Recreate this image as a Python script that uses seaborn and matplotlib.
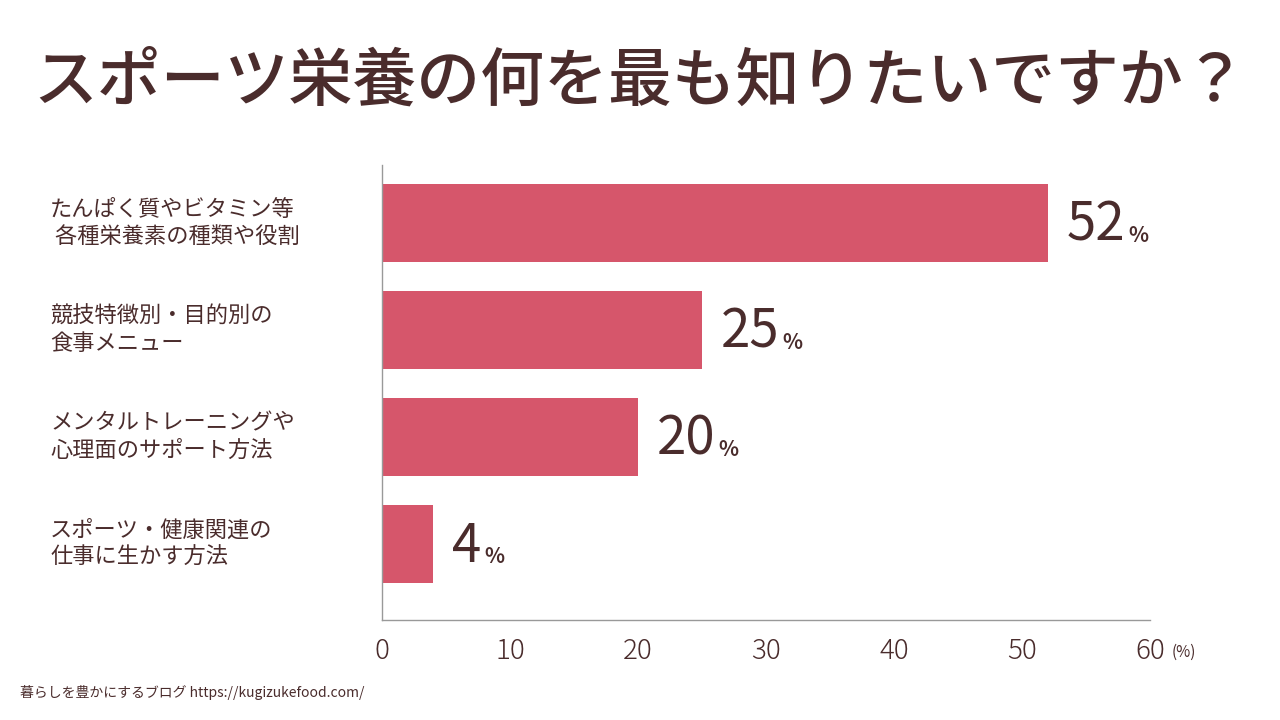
import matplotlib
matplotlib.use("Agg")
import matplotlib.pyplot as plt
import seaborn as sns
import pandas as pd

categories = ["たんぱく質やビタミン等\n 各種栄養素の種類や役割",
              "競技特徴別・目的別の\n食事メニュー",
              "メンタルトレーニングや\n心理面のサポート方法",
              "スポーツ・健康関連の\n仕事に生かす方法"]
values = [52, 25, 20, 4]
xticks = [0, 10, 20, 30, 40, 50, 60]

BAR = "#D6566B"
TXT = "#4A2C2C"
plt.rcParams["font.family"] = "Noto Sans CJK JP"

df = pd.DataFrame({"cat": categories, "val": values})
fig = plt.figure(figsize=(12.8, 7.2), dpi=100)
ax = fig.add_axes([382/1280, 1-620/720, 768/1280, 455/720])
sns.barplot(data=df, x="val", y="cat", orient="h", color=BAR, width=0.73,
            saturation=1, ax=ax)
ax.set_xlim(0, 60)
ax.set_ylim(3.71, -0.54)
ax.set_xticks(xticks)
ax.set_xticklabels([str(t) for t in xticks], fontsize=20, color=TXT, fontweight="light")
ax.tick_params(axis="x", length=0, pad=12)
ax.tick_params(axis="y", length=0)
ax.set_yticklabels([])
ax.set_xlabel(""); ax.set_ylabel("")
for s in ["top", "right"]:
    ax.spines[s].set_visible(False)
for s in ["left", "bottom"]:
    ax.spines[s].set_color("#999999"); ax.spines[s].set_linewidth(1)

for i, c in enumerate(categories):
    ax.text(-0.432, i, c, transform=ax.get_yaxis_transform(), ha="left", va="center",
            fontsize=16, color=TXT, linespacing=1.25)

fig.canvas.draw()
r = fig.canvas.get_renderer()
for i, v in enumerate(values):
    t = ax.text(v + 1.5, i + 0.02, str(v), ha="left", va="center", fontsize=38,
                color=TXT, fontweight="normal")
    bb = t.get_window_extent(r)
    x1 = ax.transData.inverted().transform((bb.x1 + 3, 0))[0]
    ax.text(x1, i + 0.12, "%", ha="left", va="center", fontsize=15, color=TXT,
            fontweight="bold")

fig.text(1172/1280, 1-652/720, "(%)", ha="left", va="center", fontsize=11, color=TXT)
fig.text(0.5, 1-82/720, "スポーツ栄養の何を最も知りたいですか？", ha="center", va="center",
         fontsize=46, color=TXT, fontweight="medium")
fig.text(20/1280, 1-692/720, "暮らしを豊かにするブログ https://kugizukefood.com/", ha="left",
         va="center", fontsize=10, color=TXT)
fig.savefig("out.png", dpi=100, facecolor="white")
